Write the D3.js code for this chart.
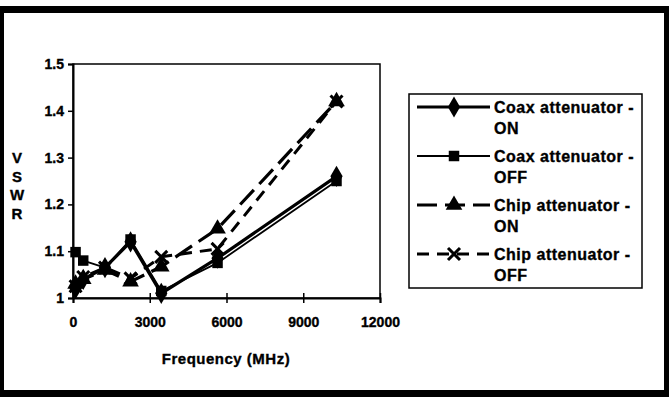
<!DOCTYPE html>
<html><head><meta charset="utf-8">
<script src="https://cdn.jsdelivr.net/npm/d3@7"></script>
<style>body{margin:0;background:#fff}svg{display:block}text{font-family:"Liberation Sans",Arial,sans-serif;font-weight:bold;fill:#000;stroke:#000;stroke-width:0.35px}</style>
</head><body><svg id="c" width="669" height="397"></svg>
<script>
const freqs = [100, 400, 1250, 2250, 3450, 5650, 10300];
const coaxOn = [1.02, 1.04, 1.065, 1.12, 1.01, 1.085, 1.26];
const coaxOff = [1.098, 1.08, 1.065, 1.125, 1.015, 1.075, 1.25];
const chipOn = [1.03, 1.04, 1.06, 1.035, 1.067, 1.148, 1.42];
const chipOff = [1.025, 1.045, 1.065, 1.042, 1.088, 1.105, 1.42];
const seriesNames = ["Coax attenuator -|ON", "Coax attenuator -|OFF", "Chip attenuator -|ON", "Chip attenuator -|OFF"];
const xTicks = [0, 3000, 6000, 9000, 12000];
const yTicks = [1, 1.1, 1.2, 1.3, 1.4, 1.5];
const yLabel = ["V", "S", "W", "R"];
const xLabel = "Frequency (MHz)";

const svg = d3.select("#c");
// outer frame
svg.append("rect").attr("x",0).attr("y",6).attr("width",669).attr("height",391).attr("fill","#000");
svg.append("rect").attr("x",4).attr("y",13).attr("width",660).attr("height",377).attr("fill","#fff");

const x = d3.scaleLinear().domain([0,12000]).range([73,380]);
const y = d3.scaleLinear().domain([1,1.5]).range([298,64]);

// plot frame
svg.append("rect").attr("x",x(0)).attr("y",y(1.5)).attr("width",x(12000)-x(0)).attr("height",y(1)-y(1.5))
  .attr("fill","none").attr("stroke","#000").attr("stroke-width",1.5);

const yAxis = svg.append("g").attr("transform",`translate(${x(0)},0)`)
  .call(d3.axisLeft(y).tickValues(yTicks).tickFormat(d=>d===1?"1":d3.format(".1f")(d)).tickSize(5).tickPadding(4));
const xAxis = svg.append("g").attr("transform",`translate(0,${y(1)})`)
  .call(d3.axisBottom(x).tickValues(xTicks).tickFormat(d3.format("d")).tickSize(5).tickPadding(14));
[yAxis,xAxis].forEach(a=>{
  a.select(".domain").attr("stroke","#000").attr("stroke-width",2);
  a.selectAll(".tick line").attr("stroke","#000").attr("stroke-width",1.5);
  a.selectAll(".tick text").style("font-size","14px").style("font-family","Liberation Sans, Arial, sans-serif").style("font-weight","bold").attr("fill","#000");
});
xAxis.selectAll(".tick line").attr("y1",-5);

yLabel.forEach((c,i)=>svg.append("text").attr("x",17).attr("y",163+i*18.5).attr("text-anchor","middle").style("font-size","15px").text(c));
svg.append("text").attr("x",226).attr("y",364).attr("text-anchor","middle").style("font-size","15px").style("letter-spacing","0.5px").text(xLabel);

const styles = [
  {vals: coaxOn, w:3.2, dash:null, sym:"diamond"},
  {vals: coaxOff, w:1.8, dash:null, sym:"square"},
  {vals: chipOn, w:3.2, dash:"20,8", sym:"triangle"},
  {vals: chipOff, w:3, dash:"12,8", sym:"x"}
];
function marker(g, type, cx, cy){
  if(type==="x"){
    const s=6;
    g.append("path").attr("d",`M${cx-s},${cy-s}L${cx+s},${cy+s}M${cx-s},${cy+s}L${cx+s},${cy-s}`).attr("stroke","#000").attr("stroke-width",3).attr("fill","none");
  } else {
    const t = {diamond:d3.symbolDiamond, square:d3.symbolSquare, triangle:d3.symbolTriangle}[type];
    const size = {diamond:130, square:110, triangle:120}[type];
    g.append("path").attr("d",d3.symbol(t,size)()).attr("transform",`translate(${cx},${cy})`).attr("fill","#000");
  }
}
const line = d3.line().x((d,i)=>x(freqs[i])).y(d=>y(d));
styles.forEach(s=>{
  const g = svg.append("g");
  g.append("path").attr("d",line(s.vals)).attr("fill","none").attr("stroke","#000").attr("stroke-width",s.w)
    .attr("stroke-dasharray",s.dash).attr("stroke-linejoin","round");
  s.vals.forEach((v,i)=>marker(g,s.sym,x(freqs[i]),y(v)));
});

// legend
svg.append("rect").attr("x",409).attr("y",94).attr("width",233).attr("height",194).attr("fill","none").attr("stroke","#000").attr("stroke-width",1.5);
styles.forEach((s,i)=>{
  const ly = 107 + i*49;
  const g = svg.append("g");
  g.append("line").attr("x1",417).attr("x2",490).attr("y1",ly).attr("y2",ly).attr("stroke","#000").attr("stroke-width",s.w)
    .attr("stroke-dasharray",s.dash);
  marker(g,s.sym,454,ly);
  const parts = seriesNames[i].split("|");
  parts.forEach((p,j)=>g.append("text").attr("x",494).attr("y",ly+6+j*21).style("font-size","16px").style("letter-spacing","0.5px").text(p));
});
</script></body></html>
